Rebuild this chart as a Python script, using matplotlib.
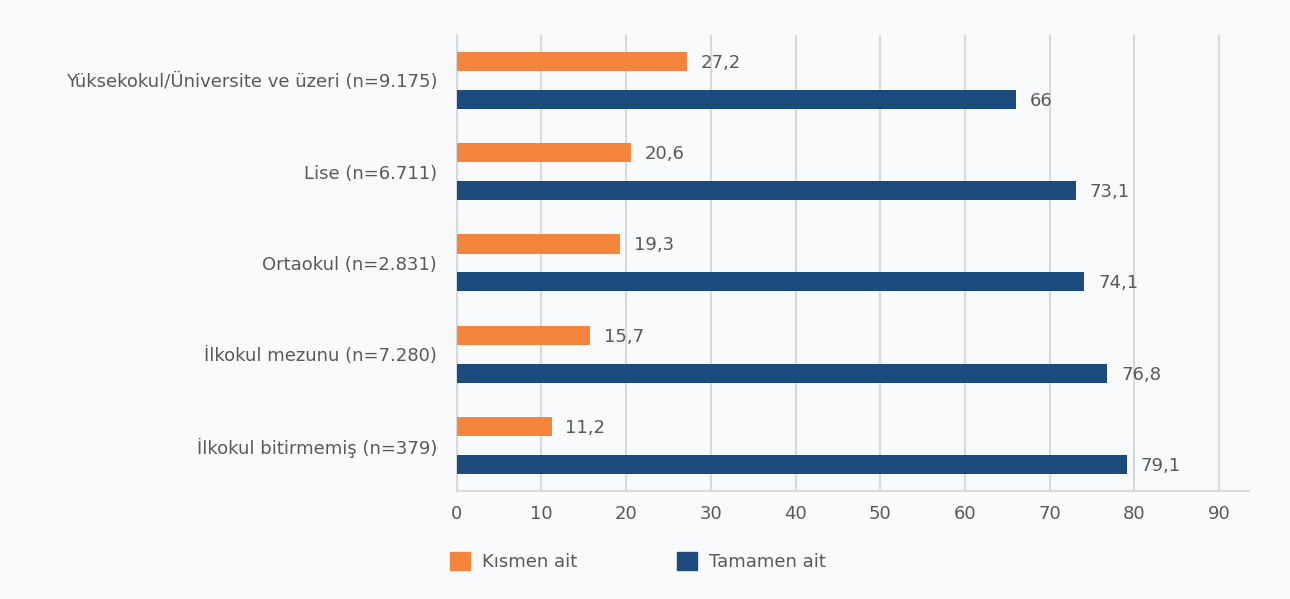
import matplotlib.pyplot as plt
from matplotlib.patches import Patch

# DATA
categories = [
    "Yüksekokul/Üniversite ve üzeri (n=9.175)",
    "Lise (n=6.711)",
    "Ortaokul (n=2.831)",
    "İlkokul mezunu (n=7.280)",
    "İlkokul bitirmemiş (n=379)",
]
kismen = [27.2, 20.6, 19.3, 15.7, 11.2]
tamamen = [66, 73.1, 74.1, 76.8, 79.1]
series_names = ["Kısmen ait", "Tamamen ait"]
x_ticks = [0, 10, 20, 30, 40, 50, 60, 70, 80, 90]

ORANGE = "#F5843D"
BLUE = "#1B4B7C"
TEXT = "#595959"
BG = "#F9FAFB"

plt.rcParams["font.family"] = ["DejaVu Sans"]

fig = plt.figure(figsize=(12.9, 5.99), dpi=100, facecolor=BG)
ax = fig.add_axes([0.354, 0.180, 0.614, 0.762], facecolor=BG)

ypos = list(range(len(categories)))
off = 0.207
h = 0.21

bars1 = ax.barh([y - off for y in ypos], kismen, height=h, color=ORANGE, zorder=3)
bars2 = ax.barh([y + off for y in ypos], tamamen, height=h, color=BLUE, zorder=3)


def fmt(v):
    s = f"{v:g}"
    return s.replace(".", ",")


for bars, vals in ((bars1, kismen), (bars2, tamamen)):
    for b, v in zip(bars, vals):
        ax.annotate(fmt(v), (v, b.get_y() + b.get_height() / 2),
                    xytext=(10, -1), textcoords="offset points",
                    va="center", ha="left", fontsize=13, color=TEXT)

ax.set_ylim(len(categories) - 0.5, -0.5)
ax.set_xlim(0, 93.5)
ax.set_yticks(ypos)
ax.set_yticklabels(categories, fontsize=13, color=TEXT)
ax.set_xticks(x_ticks)
ax.set_xticklabels([str(t) for t in x_ticks], fontsize=13, color=TEXT)
ax.tick_params(axis="both", length=0)
ax.tick_params(axis="y", pad=14)
ax.tick_params(axis="x", pad=10)

ax.grid(axis="x", color="#D9D9D9", linewidth=1.5, zorder=0)
for side in ("top", "right"):
    ax.spines[side].set_visible(False)
for side in ("left", "bottom"):
    ax.spines[side].set_color("#D9D9D9")
    ax.spines[side].set_linewidth(1.5)

# LEGEND
handles = [Patch(color=ORANGE), Patch(color=BLUE)]
fig.legend(handles, series_names, loc="center left", bbox_to_anchor=(0.336, 0.062),
           ncol=2, frameon=False, fontsize=13, handlelength=1.1,
           handleheight=1.1, columnspacing=5.5, handletextpad=0.7,
           labelcolor=TEXT)

fig.savefig("out.png", dpi=100, facecolor=BG)
